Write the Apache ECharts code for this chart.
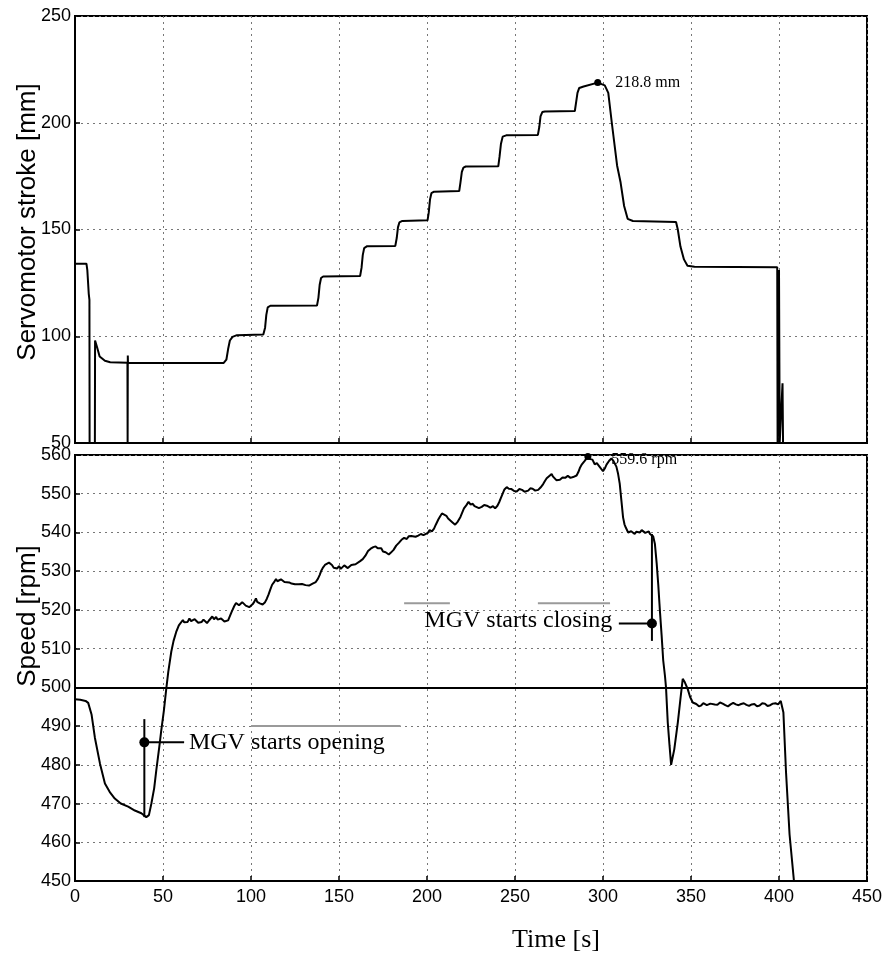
<!DOCTYPE html>
<html>
<head>
<meta charset="utf-8">
<script src="https://cdn.jsdelivr.net/npm/echarts@6/dist/echarts.min.js"></script>
<style>
html,body{margin:0;padding:0;background:#fff;}
#chart{width:892px;height:955px;}
</style>
</head>
<body>
<div id="chart"></div>
<script>
// ---- data ----
const timeTicks = [0, 50, 100, 150, 200, 250, 300, 350, 400, 450];
const strokeTicks = [50, 100, 150, 200, 250];
const speedTicks = [450, 460, 470, 480, 490, 500, 510, 520, 530, 540, 550, 560];

// servomotor stroke [mm] vs time [s]
const strokeSeries = [
  [0,134],[6.5,134],[7,131],[7.8,120],[8.2,117],[8.3,50],[11.3,50],[11.4,98],[12.5,95],[14,90.5],
  [17,88.5],[20,87.8],[29.8,87.6],[29.9,50],[30,91],[30.1,87.6],[60,87.5],[84.5,87.5],[86,89],[87,94],
  [88,98],[89.5,99.7],[92,100.5],[107,100.8],[108,104],[108.7,110],[109.5,113.5],[111,114.3],
  [137.5,114.4],[138.3,118],[139,124],[139.8,127.3],[141,128],[162,128.2],[162.8,132],[163.5,138],
  [164.3,141.3],[166,142.2],[182,142.3],[182.8,146],[183.5,151],[184.3,153.3],[186,154],[200.3,154.3],
  [201,158],[201.7,164],[202.5,167],[204,167.7],[218.3,168],[219,172],[219.8,177],[220.7,179],
  [222,179.5],[240.5,179.6],[241.2,184],[242,190],[243,193.5],[245,194.1],[263,194.3],[263.8,198],
  [264.5,203],[265.5,205],[267,205.3],[284,205.5],[284.8,210],[285.5,214],[286.5,216.3],[289,217],
  [297,218.8],[301,217.5],[303,214],[305,200],[308,180],[310,172],[312,161],[314,155],[317,154],
  [341.5,153.5],[342.5,150],[344,142],[346,136],[348,133],[352,132.5],[399,132.3],[399.2,50],
  [400,131],[400.4,50],[402,78],[402.3,50]
];

// speed [rpm] vs time [s]
const speedSeries = [
  [0,496.9],[3,496.8],[6,496.5],[7.5,496],[9.4,493],[11.3,487],[14.2,480.3],[17,475.2],[20,472.8],
  [22.6,471.3],[26,470],[30.2,469.2],[34,468.2],[37.7,467.5],[40.5,466.5],[42,467],[43.4,470],
  [45,474],[46.2,478.6],[48,485],[49,488.8],[50.5,494],[51.9,499.8],[53,504],[54.7,509.2],[56,512],
  [57.5,514.3],[59,516],[61.3,517.4],[62,516.8],[63,517.3],[64,516.9],[65,517.8],[66,517.1],[67,516.8],
  [68,517.6],[69,517.2],[70,516.7],[70.8,517.2],[72,516.9],[73,517.5],[74,517],[75,516.6],[76,517.2],
  [77,517.3],[78,518.3],[79,517.6],[80.2,518.2],[81,517.5],[82,517.4],[83,517.8],[84.9,517],[86,516.6],
  [87,517.3],[88,518.4],[89,519.5],[90.5,521],[91.5,521.8],[92.5,522],[93.2,521.2],[94,521.3],
  [95,522],[96,521.6],[97,521.1],[98,521.4],[99,520.7],[100,521],[101,521.5],[102,522.2],[102.8,523],
  [103.5,522.1],[104,522.2],[105,521.7],[106.6,521.4],[107.5,521.8],[108,522],[109,522.9],[110,524],
  [111,525.3],[112,526.5],[113,527.1],[114.2,528],[115,527.4],[116,527.2],[117,527.9],[118,527.8],
  [119,527.2],[120,527.5],[121.7,527.1],[123,526.8],[124,527.3],[125,526.6],[126,527],[127,526.6],
  [128,526.2],[129,526.7],[130,526.9],[131,526.4],[132,526.7],[133,526.3],[134,526.6],[135,526.8],
  [136,526.4],[136.8,527.2],[138,528],[139,529],[140,530.2],[141,531],[142,531.6],[143,531.5],
  [144.3,532.2],[145,531.8],[146,531.6],[147,530.9],[148,531.2],[149,530.7],[150,531.3],[151,530.6],
  [151.9,530.9],[153,531.5],[154,531.3],[155,530.8],[156,531.1],[157,531.6],[158,531.2],[159.4,531.8],
  [160.5,532.1],[162,532.6],[163.5,533.1],[165,534],[166.5,535.2],[168,535.8],[169.5,536.2],
  [170.8,536.4],[172,535.9],[173,535.6],[174,535.9],[175,535.1],[176.5,534.9],[178.3,534.3],
  [179.5,534.8],[181,535.5],[182.5,536.6],[184,537.3],[185.5,538.1],[187,538.6],[188.5,538.3],
  [189.6,539],[191,539.1],[192,539.4],[193.5,538.9],[195,539.2],[196.5,539.6],[198,539.3],[199,539.8],
  [200.5,539.9],[201.5,540.6],[202.8,540.3],[204,541],[205,542],[206.5,543.4],[207.5,544.2],
  [208.5,544.9],[209.5,544.4],[211,544.3],[212,543.6],[213,543.2],[214.5,542.6],[216,542],[217.5,542.8],
  [219,544],[220,545.1],[221,546.2],[222.3,547],[223.6,547.9],[224.8,547.2],[226,547.4],[227,546.8],
  [228,546.9],[229.5,546.3],[231.1,546.6],[232.5,547.1],[234,546.9],[235,546.5],[236,546.4],
  [237.5,546.8],[238.7,546.2],[240,546.9],[241,547.8],[242,548.9],[243,550],[244,551.1],[245.3,551.7],
  [246.5,551.3],[248,551.2],[249.5,550.7],[251,550.6],[252.5,551.2],[254,551],[255.5,550.5],
  [257.5,550.8],[258.7,551.4],[260,551.3],[261.5,550.8],[263.2,551],[264.5,551.6],[266,552.5],
  [267,553.3],[268,554],[269.5,554.6],[270.8,555.1],[271.5,554.5],[272.5,554.2],[273.5,553.5],
  [274.5,553],[275.5,553.6],[277,554.2],[278.5,554.1],[280,554.6],[281.5,554.1],[283,554.3],
  [284,553.8],[285,554.7],[286,555.6],[287,556.8],[288,557.6],[289.6,558.5],[290.5,559],[291.4,559.6],
  [292.2,559],[293,558.5],[294,558.8],[295.3,557.6],[296.5,557.9],[298,557],[299,556.6],[300,555.8],
  [301,556.5],[302,557.5],[303.5,558.5],[304.8,559.1],[306,558.4],[307.6,557],[308.5,555.3],
  [309.5,552.6],[310.5,548],[311.4,543.9],[312.2,542.1],[313,541.2],[314.3,540],[315,540.5],
  [316,540.3],[317,539.8],[318,539.6],[319,540.2],[320,539.9],[321,540],[322,540.6],[323,540.4],
  [324,539.9],[325,540.1],[326,540.3],[326.7,539.6],[328.5,539],[329.5,537],[330.5,532],[331.4,526.5],
  [332.3,520],[333.3,513.5],[334.2,507],[335.2,503],[335.8,500],[336.8,490.9],[337.8,485],[338.7,480],
  [339.5,480.5],[340.5,484],[342.5,490.9],[344,497],[345.3,502.2],[346.5,501.3],[348.1,499.6],
  [349.5,497.5],[351,496.1],[352,495.6],[353,495.7],[354.5,495.1],[355.7,495.3],[357,495.9],[358,496],
  [359,495.4],[360,495.2],[361,495.8],[362,496.3],[363.5,495.6],[365,495.5],[366.5,496.1],[368,495.8],
  [369.5,495.4],[371,495.1],[372.5,495.6],[374,496],[375.5,495.6],[377,495.4],[378.5,495.7],
  [380,495.9],[381.5,495.5],[383,495.2],[384.5,495.6],[386,495.7],[387.5,495.1],[389,495.3],
  [390.5,495.9],[392,495.8],[393.5,495.2],[395,495.4],[396.5,495.8],[398,495.9],[399.5,495.6],
  [401,496.5],[402.5,493.5],[404,478],[406,462],[408.5,450]
];

const referenceSpeed = 500;

// annotations (data coordinates)
const strokePeak = [297, 218.8];
const strokePeakLabel = '218.8 mm';
const speedPeak = [291.4, 559.6];
const speedPeakLabel = '559.6 rpm';
const openingDot = [39.4, 485.8];
const openingStem = [[39.4, 491.8], [39.4, 466.5]];
const openingLeader = [[39.4, 485.8], [62, 485.8]];
const openingTextAnchor = [63, 485.8];
const openingText = 'MGV starts opening';
const closingDot = [327.8, 516.5];
const closingStem = [[327.8, 539.6], [327.8, 512]];
const closingLeader = [[309, 516.5], [327.8, 516.5]];
const closingTextAnchor = [307, 517.2];
const closingText = 'MGV starts closing';
// faint grey scan strokes seen on the page
const scanStrokeA = [[100, 490], [185, 490]];
const scanStrokeB = [[187, 521.7], [213, 521.7]];
const scanStrokeC = [[263, 521.7], [304, 521.7]];

const xTitle = 'Time [s]';
const strokeTitle = 'Servomotor stroke [mm]';
const speedTitle = 'Speed [rpm]';

// ---- chart ----
const chart = echarts.init(document.getElementById('chart'), null, {renderer: 'canvas'});
const tickFont = {fontFamily: 'Liberation Sans, Arial, sans-serif', fontSize: 18, color: '#000'};
const splitStyle = {show: true, lineStyle: {color: '#777', width: 1, type: [2, 4]}};

function xAxisCfg(gridIndex, showLabels) {
  return {
    type: 'value', gridIndex, min: timeTicks[0], max: timeTicks[timeTicks.length - 1], interval: 50,
    axisLine: {show: true, onZero: false, lineStyle: {color: '#000', width: 2}},
    axisTick: {show: true, inside: true, length: 5, lineStyle: {color: '#000', width: 1.5}},
    axisLabel: Object.assign({show: showLabels, margin: 7}, tickFont),
    splitLine: splitStyle
  };
}
function yAxisCfg(gridIndex, ticks, interval) {
  return {
    type: 'value', gridIndex, min: ticks[0], max: ticks[ticks.length - 1], interval,
    axisLine: {show: true, onZero: false, lineStyle: {color: '#000', width: 2}},
    axisTick: {show: true, inside: true, length: 5, lineStyle: {color: '#000', width: 1.5}},
    axisLabel: Object.assign({margin: 4}, tickFont),
    splitLine: splitStyle
  };
}
const blackLine = (data, xi, w) => ({
  type: 'line', xAxisIndex: xi, yAxisIndex: xi, data, symbol: 'none', silent: true,
  lineStyle: {color: '#000', width: w}, z: 5
});
const greyLine = (data) => ({
  type: 'line', xAxisIndex: 1, yAxisIndex: 1, data, symbol: 'none', silent: true,
  lineStyle: {color: '#9a9a9a', width: 2}, z: 3
});
const serifLabel = (size) => ({fontFamily: 'Liberation Serif, Times New Roman, serif', fontSize: size, color: '#000', opacity: 1});
const dotStyle = {color: '#000', opacity: 1};

chart.setOption({
  animation: false,
  backgroundColor: '#fff',
  grid: [
    {left: 75, top: 16, width: 792, height: 427, show: true, borderColor: '#000', borderWidth: 2},
    {left: 75, top: 455, width: 792, height: 426, show: true, borderColor: '#000', borderWidth: 2}
  ],
  xAxis: [xAxisCfg(0, false), xAxisCfg(1, true)],
  yAxis: [yAxisCfg(0, strokeTicks, 50), yAxisCfg(1, speedTicks, 10)],
  graphic: [
    {type: 'text', x: 28, y: 222, rotation: Math.PI / 2,
     style: {text: strokeTitle, fontFamily: 'Liberation Sans, Arial, sans-serif', fontSize: 26, fill: '#000', textAlign: 'center', textVerticalAlign: 'middle'}},
    {type: 'text', x: 28, y: 616, rotation: Math.PI / 2,
     style: {text: speedTitle, fontFamily: 'Liberation Sans, Arial, sans-serif', fontSize: 26, fill: '#000', textAlign: 'center', textVerticalAlign: 'middle'}},
    {type: 'text', x: 556, y: 940,
     style: {text: xTitle, fontFamily: 'Liberation Serif, Times New Roman, serif', fontSize: 26, fill: '#000', textAlign: 'center', textVerticalAlign: 'middle'}}
  ],
  series: [
    blackLine(strokeSeries, 0, 2),
    Object.assign(blackLine(speedSeries, 1, 2), {
      markLine: {
        silent: true, symbol: ['none', 'none'], label: {show: false},
        lineStyle: {color: '#000', width: 2, type: 'solid'},
        data: [{yAxis: referenceSpeed}]
      }
    }),
    blackLine(openingStem, 1, 2),
    blackLine(openingLeader, 1, 2),
    blackLine(closingStem, 1, 2),
    blackLine(closingLeader, 1, 2),
    greyLine(scanStrokeA),
    greyLine(scanStrokeB),
    greyLine(scanStrokeC),
    {type: 'scatter', xAxisIndex: 0, yAxisIndex: 0, data: [strokePeak], symbolSize: 7,
     itemStyle: dotStyle, z: 6,
     label: Object.assign({show: true, position: 'right', distance: 14, formatter: strokePeakLabel}, serifLabel(16))},
    {type: 'scatter', xAxisIndex: 1, yAxisIndex: 1, data: [speedPeak], symbolSize: 7,
     itemStyle: dotStyle, z: 6,
     label: Object.assign({show: true, position: 'right', distance: 20, offset: [0, 3], formatter: speedPeakLabel}, serifLabel(16))},
    {type: 'scatter', xAxisIndex: 1, yAxisIndex: 1, data: [openingDot, closingDot], symbolSize: 10,
     itemStyle: dotStyle, z: 6},
    {type: 'scatter', xAxisIndex: 1, yAxisIndex: 1, data: [openingTextAnchor], symbolSize: 0,
     itemStyle: dotStyle,
     label: Object.assign({show: true, position: 'right', distance: 3, formatter: openingText}, serifLabel(24))},
    {type: 'scatter', xAxisIndex: 1, yAxisIndex: 1, data: [closingTextAnchor], symbolSize: 0,
     itemStyle: dotStyle,
     label: Object.assign({show: true, position: 'left', distance: 3, formatter: closingText}, serifLabel(24))}
  ]
});
</script>
</body>
</html>
